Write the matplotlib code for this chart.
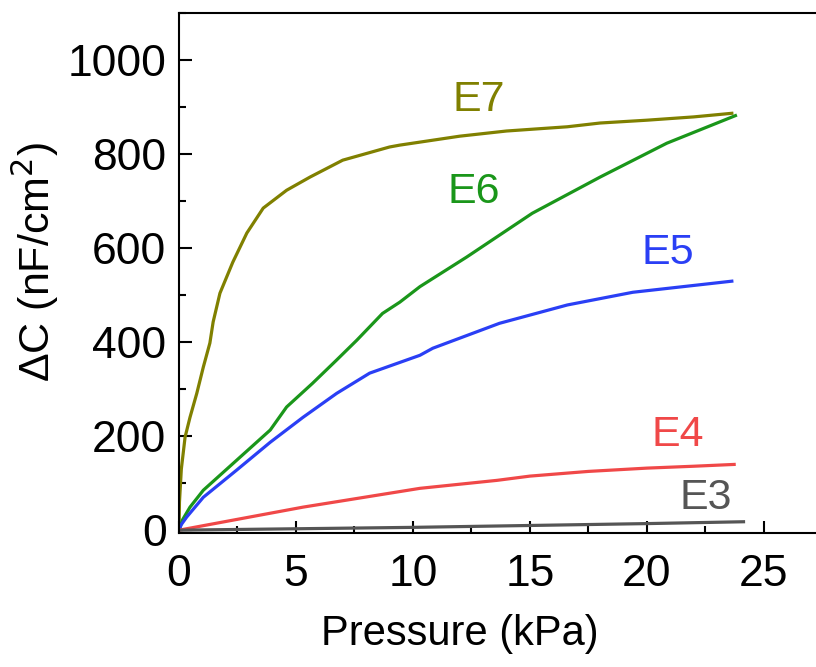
import matplotlib
matplotlib.use("Agg")
import matplotlib.pyplot as plt
from matplotlib.ticker import MultipleLocator

plt.rcParams['font.family'] = ['Liberation Sans', 'DejaVu Sans']

# Data
e7_x = [0, 0.02, 0.1, 0.26, 0.47, 0.76, 1.04, 1.32, 1.46, 1.75, 2.3, 2.9, 3.6, 4.6, 5.6, 7.0, 9.0, 9.44, 12.0, 14.0, 16.6, 18.0, 20.0, 22.0, 23.7]
e7_y = [0, 60, 130, 198, 240, 291, 347, 398, 443, 504, 570, 632, 685, 723, 751, 787, 815, 819, 838, 849, 858, 866, 872, 879, 887]

e6_x = [0, 0.15, 0.47, 1.04, 2.47, 3.9, 4.6, 5.7, 6.74, 7.6, 8.7, 9.44, 10.3, 12.3, 15.1, 18.0, 20.85, 23.85]
e6_y = [0, 22, 49, 85, 149, 213, 262, 312, 362, 404, 461, 485, 518, 581, 674, 751, 823, 883]

e5_x = [0, 0.1, 0.33, 1.04, 2.47, 3.9, 5.3, 6.74, 8.15, 10.3, 10.85, 13.7, 16.6, 19.4, 23.7]
e5_y = [0, 12, 28, 70, 128, 187, 240, 291, 334, 372, 387, 440, 479, 506, 530]

e4_x = [0, 5.3, 10.3, 13.6, 15.0, 17.5, 20.0, 22.0, 23.8]
e4_y = [0, 49, 89, 106, 115, 125, 132, 136, 140]

e3_x = [0, 5.0, 10.0, 15.0, 20.0, 24.2]
e3_y = [0, 3, 6, 10, 14, 18]

labels = ["E7", "E6", "E5", "E4", "E3"]
colors = ["#808000", "#1a961a", "#2a3ff5", "#f04848", "#555555"]
label_pos = [(12.8, 916), (12.6, 719), (20.9, 590), (21.3, 203), (22.5, 69)]

fig = plt.figure(figsize=(8.16, 6.67), dpi=100)
ax = fig.add_axes([179/816, 134/667, 655/816, 520/667])

series = [(e7_x, e7_y), (e6_x, e6_y), (e5_x, e5_y), (e4_x, e4_y), (e3_x, e3_y)]
for (xs, ys), c in zip(series, colors):
    ax.plot(xs, ys, color=c, lw=2.3, solid_capstyle='butt')

for lab, c, (px, py) in zip(labels, colors, label_pos):
    ax.text(px, py, lab, color=c, fontsize=31, ha='center', va='center')

ax.set_xlim(0, 28)
ax.set_ylim(-6, 1100)
ax.xaxis.set_major_locator(MultipleLocator(5))
ax.xaxis.set_minor_locator(MultipleLocator(2.5))
ax.yaxis.set_major_locator(MultipleLocator(200))
ax.yaxis.set_minor_locator(MultipleLocator(100))
ax.tick_params(which='major', direction='in', length=9, width=1.5, labelsize=32)
ax.tick_params(which='minor', direction='in', length=5, width=1.5)
ax.tick_params(axis='x', which='major', pad=15)
ax.tick_params(axis='y', which='major', pad=9)
ax.tick_params(axis='y', which='both', right=False)
ax.tick_params(axis='x', which='both', top=False)
for s in ax.spines.values():
    s.set_linewidth(1.5)
ax.spines['right'].set_visible(False)

ax.set_xlabel("Pressure (kPa)", fontsize=30)
ax.set_ylabel("ΔC (nF/cm$^2$)", fontsize=31)
ax.xaxis.set_label_coords((460 - 179) / 655, -(614 - 533) / 520)
ax.yaxis.set_label_coords(-(179 - 61) / 655, (533 - 262) / 520)

fig.savefig("out.png", dpi=100)
